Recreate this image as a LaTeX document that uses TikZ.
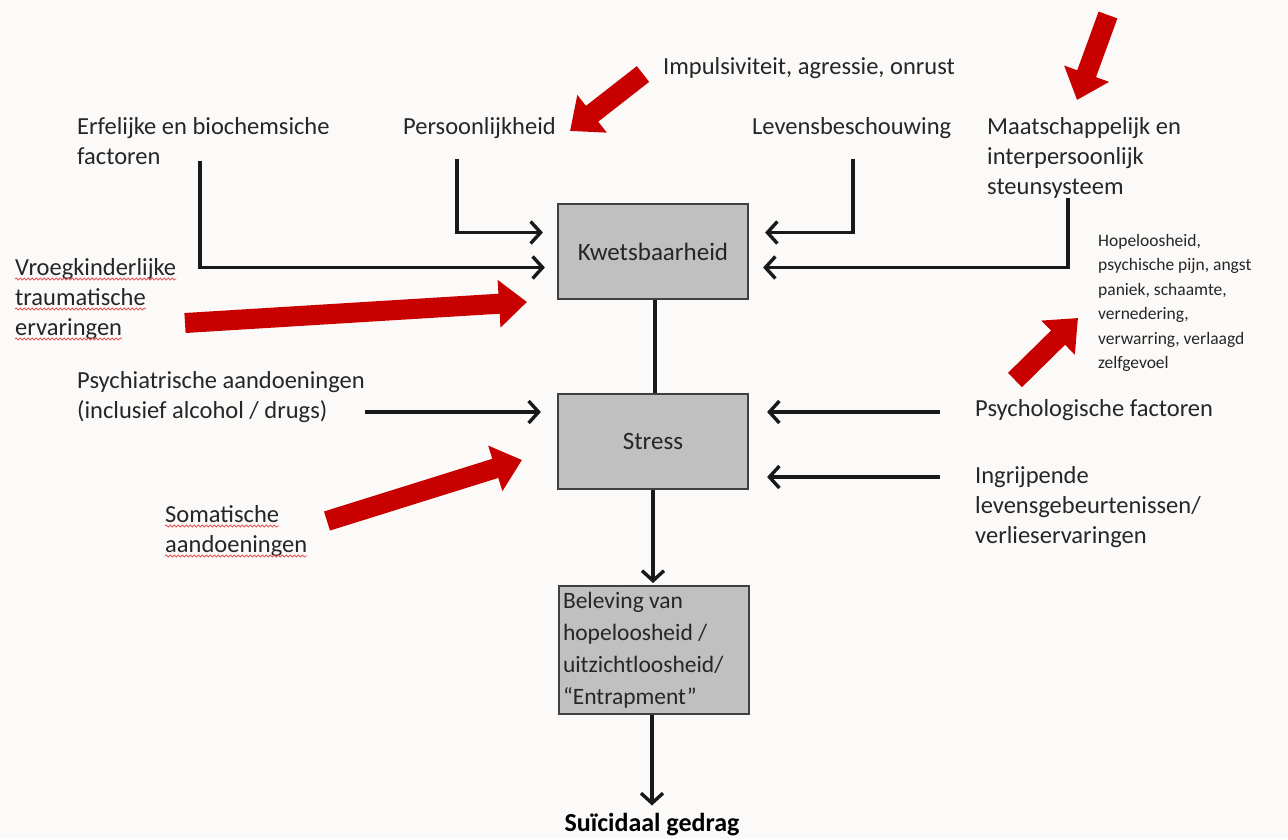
\documentclass[tikz,border=0pt]{standalone}
\usepackage{fontspec}
\setmainfont{Carlito}
\usepackage{tikz}
\tikzset{>=latex}
\usetikzlibrary{arrows.meta, decorations.pathmorphing}
\definecolor{papier}{RGB}{252,250,248}
\definecolor{vakgrijs}{RGB}{192,192,192}
\definecolor{tekstgrijs}{RGB}{38,38,38}
\definecolor{pijlrood}{RGB}{200,0,0}
\definecolor{kronkelrood}{RGB}{225,90,90}
\def\lijndikte{3.4pt}

\tikzset{
  lbl/.style={anchor=north west, inner sep=0pt, align=left, text=tekstgrijs, font=\fontsize{24.5}{30}\selectfont},
  vak/.style={draw=black!75, line width=2.2pt, fill=vakgrijs, minimum width=190pt, inner sep=0pt, text=tekstgrijs, font=\fontsize{25}{30}\selectfont},
  pijl/.style={line width=\lijndikte, draw=black!90, -{Straight Barb[length=10pt, width=22pt]}},
  rodepijl/.style={line width=20pt, draw=pijlrood, -{Triangle[length=28pt, width=46pt]}},
  kronkel/.style={draw=kronkelrood, line width=0.8pt, decorate, decoration={snake, amplitude=1pt, segment length=4pt}}
}

\begin{document}
\begin{tikzpicture}[x=1pt, y=-1pt]

    \useasboundingbox (0,0) rectangle (1288,839);
    \fill[papier] (0,0) rectangle (1288,839);

    % Vakken
    \node[vak, minimum height=95pt] (kwets) at (653,251.5) {Kwetsbaarheid};
    \node[vak, minimum height=95pt] (stress) at (653,441.5) {Stress};
    \node[vak, minimum height=128pt, anchor=north, text width=182pt, inner xsep=4pt, align=flush left, font=\fontsize{23.5}{32}\selectfont] (bel) at (654,585)
        {Beleving van\\hopeloosheid /\\uitzichtloosheid/\\``Entrapment''};
    \node[inner sep=0pt, text=black, font=\bfseries\fontsize{26}{30}\selectfont] (suic) at (652,825) {Suïcidaal gedrag};

    % Factoren boven
    \node[lbl] (erf) at (77,117) {Erfelijke en biochemsiche\\factoren};
    \node[lbl] (pers) at (403,117) {Persoonlijkheid};
    \node[lbl] (leven) at (752,117) {Levensbeschouwing};
    \node[lbl] (maat) at (987,117) {Maatschappelijk en\\interpersoonlijk\\steunsysteem};
    \node[lbl] (impuls) at (663,57) {Impulsiviteit, agressie, onrust};

    % Factoren links
    \node[lbl, anchor=base west] (vroegA) at (15,275) {Vroegkinderlijke};
    \node[lbl, anchor=base west] (vroegB) at (15,305) {traumatische};
    \node[lbl, anchor=base west] (vroegC) at (15,335) {ervaringen};
    \node[lbl] (psych) at (77,371) {Psychiatrische aandoeningen\\(inclusief alcohol / drugs)};
    \node[lbl, anchor=base west] (somA) at (165,522) {Somatische};
    \node[lbl, anchor=base west] (somB) at (165,552) {aandoeningen};

    % Factoren rechts
    \node[lbl, font=\fontsize{17.5}{24.5}\selectfont] (hoop) at (1098,234)
        {Hopeloosheid,\\psychische pijn, angst\\paniek, schaamte,\\vernedering,\\verwarring, verlaagd\\zelfgevoel};
    \node[lbl] (psyfac) at (975,399) {Psychologische factoren};
    \node[lbl] (ingr) at (975,466) {Ingrijpende\\levensgebeurtenissen/\\verlieservaringen};

    % Spellingskronkels
    \foreach \w in {vroegA, vroegB, vroegC, somA, somB}{
        \draw[kronkel] ([yshift=-4pt]\w.base west) -- ([yshift=-4pt]\w.base east);
    }

    % Pijlen naar Kwetsbaarheid
    \draw[pijl, shorten >=12pt] ([xshift=123pt, yshift=4pt]erf.south west) |- ([yshift=-16pt]kwets.west);
    \draw[pijl, shorten >=14pt] ([xshift=54pt, yshift=-20pt]pers.south west) |- ([yshift=19pt]kwets.west);
    \draw[pijl, shorten >=16pt] ([xshift=101pt, yshift=-20pt]leven.south west) |- ([yshift=19pt]kwets.east);
    \draw[pijl, shorten >=14pt] ([xshift=81pt]maat.south west) |- ([yshift=-16pt]kwets.east);

    % Pijlen naar Stress
    \draw[pijl, shorten >=16pt] ([yshift=29.5pt]stress.west -| psych.east) -- ([yshift=29.5pt]stress.west);
    \draw[pijl, shorten <=35pt, shorten >=18pt] ([yshift=29.5pt]stress.east -| psyfac.west) -- ([yshift=29.5pt]stress.east);
    \draw[pijl, shorten <=35pt, shorten >=18pt] ([yshift=-35.5pt]stress.east -| ingr.west) -- ([yshift=-35.5pt]stress.east);

    % Middenas
    \draw[line width=\lijndikte, black!90] ([xshift=2pt]kwets.south) -- ([xshift=2pt]stress.north);
    \draw[pijl, shorten >=2pt] (stress) -- (stress |- bel.north);
    \draw[pijl, shorten >=8pt] (bel.south -| suic) -- (suic);

    % Rode pijlen
    \coordinate (impulsStart) at (643,74);
    \coordinate (persDoel) at (570,131);
    \coordinate (maatStart) at (1108,15);
    \coordinate (maatDoel) at (1077,100);
    \coordinate (vroegStart) at (185,323);
    \coordinate (vroegDoel) at (527,302);
    \coordinate (hoopStart) at (1015,380);
    \coordinate (hoopDoel) at (1078,318);
    \coordinate (somStart) at (327,521);
    \coordinate (somDoel) at (522,460);
    \draw[rodepijl] (impulsStart) -- (persDoel);
    \draw[rodepijl] (maatStart) -- (maatDoel);
    \draw[rodepijl] (vroegStart) -- (vroegDoel);
    \draw[rodepijl] (hoopStart) -- (hoopDoel);
    \draw[rodepijl] (somStart) -- (somDoel);

\end{tikzpicture}
\end{document}
